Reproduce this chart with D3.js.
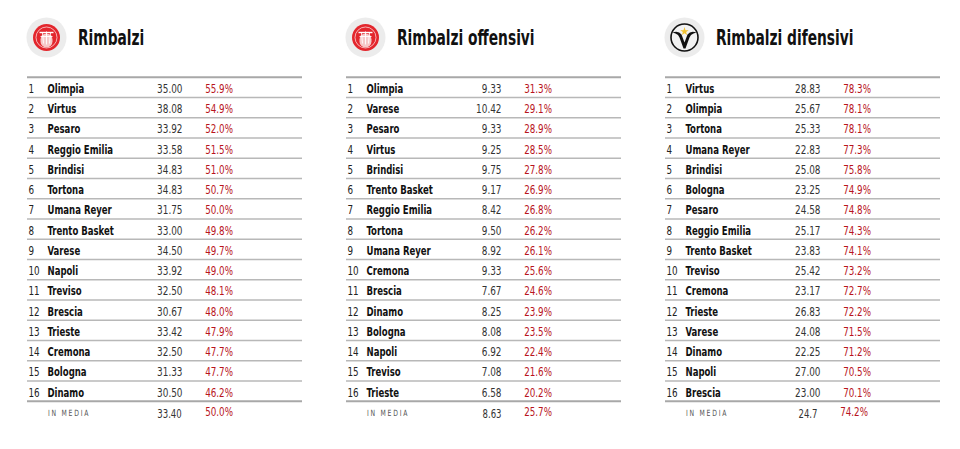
<!DOCTYPE html>
<html>
<head>
<meta charset="utf-8">
<script src="https://cdn.jsdelivr.net/npm/d3@7"></script>
<style>
  body { margin: 0; background: #fff; }
  svg { display: block; }
</style>
</head>
<body>
<div id="chart"></div>
<script>
// Rimbalzi totali
const teamsTot = ['Olimpia', 'Virtus', 'Pesaro', 'Reggio Emilia', 'Brindisi', 'Tortona', 'Umana Reyer', 'Trento Basket',
  'Varese', 'Napoli', 'Treviso', 'Brescia', 'Trieste', 'Cremona', 'Bologna', 'Dinamo'];
const valuesTot = [35.00, 38.08, 33.92, 33.58, 34.83, 34.83, 31.75, 33.00, 34.50, 33.92, 32.50, 30.67, 33.42, 32.50, 31.33, 30.50];
const pctTot = [55.9, 54.9, 52.0, 51.5, 51.0, 50.7, 50.0, 49.8, 49.7, 49.0, 48.1, 48.0, 47.9, 47.7, 47.7, 46.2];

// Rimbalzi offensivi
const teamsOff = ['Olimpia', 'Varese', 'Pesaro', 'Virtus', 'Brindisi', 'Trento Basket', 'Reggio Emilia', 'Tortona',
  'Umana Reyer', 'Cremona', 'Brescia', 'Dinamo', 'Bologna', 'Napoli', 'Treviso', 'Trieste'];
const valuesOff = [9.33, 10.42, 9.33, 9.25, 9.75, 9.17, 8.42, 9.50, 8.92, 9.33, 7.67, 8.25, 8.08, 6.92, 7.08, 6.58];
const pctOff = [31.3, 29.1, 28.9, 28.5, 27.8, 26.9, 26.8, 26.2, 26.1, 25.6, 24.6, 23.9, 23.5, 22.4, 21.6, 20.2];

// Rimbalzi difensivi
const teamsDif = ['Virtus', 'Olimpia', 'Tortona', 'Umana Reyer', 'Brindisi', 'Bologna', 'Pesaro', 'Reggio Emilia',
  'Trento Basket', 'Treviso', 'Cremona', 'Trieste', 'Varese', 'Dinamo', 'Napoli', 'Brescia'];
const valuesDif = [28.83, 25.67, 25.33, 22.83, 25.08, 23.25, 24.58, 25.17, 23.83, 25.42, 23.17, 26.83, 24.08, 22.25, 27.00, 23.00];
const pctDif = [78.3, 78.1, 78.1, 77.3, 75.8, 74.9, 74.8, 74.3, 74.1, 73.2, 72.7, 72.2, 71.5, 71.2, 70.5, 70.1];

// titoli e medie
const titles = ['Rimbalzi', 'Rimbalzi offensivi', 'Rimbalzi difensivi'];
const logos = ['olimpia', 'olimpia', 'virtus'];
const mediaValues = ['33.40', '8.63', '24.7'];
const mediaPct = ['50.0%', '25.7%', '74.2%'];

const tables = [
  { teams: teamsTot, values: valuesTot, pct: pctTot },
  { teams: teamsOff, values: valuesOff, pct: pctOff },
  { teams: teamsDif, values: valuesDif, pct: pctDif }
];

const width = 960;
const height = 449;
const font = '"Liberation Sans Narrow", "DejaVu Sans Condensed", "Roboto", sans-serif';
const red = '#b8141c';

const svg = d3.select('#chart')
  .append('svg')
  .attr('width', width)
  .attr('height', height);

// one table every 319px
const x0 = d3.scaleBand().domain(d3.range(3)).range([27, 27 + 319 * 3]);
const tableW = 275;

// rows
const y = d3.scaleBand().domain(d3.range(16)).range([77.3, 77.3 + 20.25 * 16]);

// narrow text: the condensed font is squeezed horizontally
function txt(g, x, yy, str, o = {}) {
  const sx = o.sx || 0.75;
  return g.append('text')
    .attr('transform', `translate(${x},${yy}) scale(${sx},1)`)
    .attr('text-anchor', o.anchor || 'start')
    .style('font-family', font)
    .style('font-weight', o.weight || '400')
    .style('font-size', (o.size || 13) + 'px')
    .style('letter-spacing', o.spacing || null)
    .style('fill', o.fill || '#222')
    .text(str);
}

function drawOlimpia(g) {
  g.append('circle').attr('r', 13.5).attr('fill', '#e3262d');
  g.append('circle').attr('r', 10.5).attr('fill', 'none').attr('stroke', '#fff').attr('stroke-width', 0.8).attr('opacity', 0.8);
  g.append('path')
    .attr('d', 'M-6,2 A6,6 0 0,1 6,2 L6,4 A6,6 0 0,1 -6,4 Z')
    .attr('fill', '#f6c9c9');
  g.append('path')
    .attr('d', 'M-6,-1 L6,-1 M-4,-5 L-3,6 M0,-6 L0,7 M4,-5 L3,6')
    .attr('stroke', '#fff').attr('stroke-width', 0.9).attr('fill', 'none');
  g.append('path')
    .attr('d', 'M-7,-5 L7,-5')
    .attr('stroke', '#fff').attr('stroke-width', 1.4);
}

function drawVirtus(g) {
  g.append('circle').attr('r', 13.5).attr('fill', '#f2f2f2')
    .attr('stroke', '#111').attr('stroke-width', 1.6);
  g.append('path')
    .attr('d', 'M-12,-5 Q-6,-7 -3,-3 L0,5 L3,-3 Q6,-7 12,-5 L9,-4 Q6,-3 5,0 L1,11 L-1,11 L-5,0 Q-6,-3 -9,-4 Z')
    .attr('fill', '#111');
  g.append('path')
    .attr('d', d3.symbol(d3.symbolStar, 22)())
    .attr('transform', 'translate(0,-6)')
    .attr('fill', '#f2c230');
}

const mediaX = [142.5, 146, 143];

tables.forEach((t, k) => {
  const left = x0(k);
  const g = svg.append('g').attr('transform', `translate(${left},0)`);

  // header
  const logo = g.append('g').attr('transform', 'translate(19.5,37.5)');
  logo.append('circle').attr('r', 20).attr('fill', '#ececec');
  if (logos[k] === 'virtus') drawVirtus(logo); else drawOlimpia(logo);

  txt(g, 51, 44.5, titles[k], { size: 21, weight: '700', fill: '#111', sx: 0.73 });

  // row separators
  g.selectAll('line.row')
    .data(d3.range(17))
    .join('line')
    .attr('class', 'row')
    .attr('x1', 0)
    .attr('x2', tableW)
    .attr('y1', i => i < 16 ? y(i) : y(15) + y.bandwidth())
    .attr('y2', i => i < 16 ? y(i) : y(15) + y.bandwidth())
    .attr('stroke', i => (i === 0 || i === 16) ? '#a8a8a8' : '#b8b8b8')
    .attr('stroke-width', i => (i === 0 || i === 16) ? 2 : 1.5);

  t.teams.forEach((team, i) => {
    const by = y(i) + 15.5;
    txt(g, 1.5, by, i + 1, { fill: '#222' });
    txt(g, 20.5, by, team, { weight: '700', fill: '#111', sx: 0.73 });
    txt(g, 155.5, by, t.values[i].toFixed(2), { anchor: 'end', fill: '#333', sx: 0.76 });
    txt(g, 206, by, t.pct[i].toFixed(1) + '%', { anchor: 'end', fill: red, size: 12.5, sx: 0.78 });
  });

  // media
  const my = y(15) + y.bandwidth() + 15.5;
  txt(g, 21, my - 1, 'IN MEDIA', { size: 8.5, spacing: '2.2px', fill: '#555', sx: 0.8 });
  txt(g, mediaX[k], my + 1, mediaValues[k], { anchor: 'middle', size: 12.5, fill: '#333', sx: 0.76 });
  txt(g, k === 2 ? 203 : 206, my - 0.5, mediaPct[k], { anchor: 'end', size: 12.5, fill: red, sx: 0.78 });
});
</script>
</body>
</html>
